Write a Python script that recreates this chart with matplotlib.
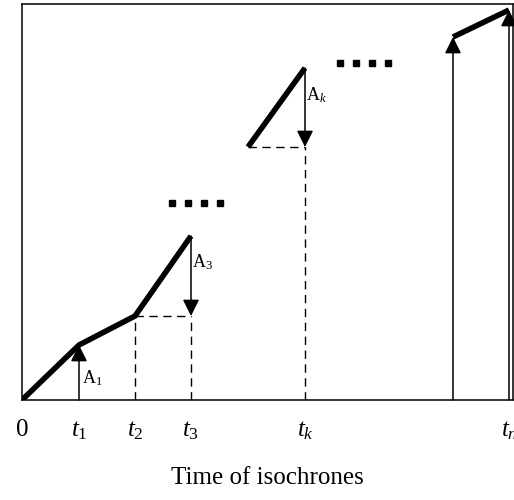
import matplotlib
matplotlib.use('Agg')
import matplotlib.pyplot as plt
import numpy as np

plt.rcParams['font.family'] = 'Liberation Serif'
plt.rcParams['mathtext.fontset'] = 'custom'
plt.rcParams['mathtext.rm'] = 'Liberation Serif'
plt.rcParams['mathtext.it'] = 'Liberation Serif:italic'

# isochrone times and cumulative values (arbitrary units)
tick_pos = [0, 57, 113, 169, 283, 487]
tick_labels = ['0', r'$t_{\mathit{1}}$', r'$t_{\mathit{2}}$', r'$t_{\mathit{3}}$', r'$t_k$', r'$t_n$']

seg1_x = [0, 57, 113, 169]
seg1_y = [0, 55, 84, 164]
segk_x = [226, 283]
segk_y = [253, 332]
segn_x = [431, 487]
segn_y = [363, 390]

dots1_x = [150, 166, 182, 198]
dots1_y = [197, 197, 197, 197]
dots2_x = [318, 334, 350, 366]
dots2_y = [337, 337, 337, 337]

fig = plt.figure(figsize=(5.14, 5.0), dpi=100)
ax = fig.add_axes([22 / 514, 0.2, 491 / 514, 396 / 500])
ax.set_xlim(0, 491)
ax.set_ylim(0, 396)

thick = dict(color='black', lw=4.0, solid_capstyle='butt', solid_joinstyle='miter')
ax.plot(seg1_x, seg1_y, **thick)
ax.plot(segk_x, segk_y, **thick)
ax.plot(segn_x, segn_y, **thick)

dash = dict(color='black', lw=1.0, ls=(0, (6, 4)))
# dashed guides
ax.plot([seg1_x[2], seg1_x[2]], [0, seg1_y[2]], **dash)
ax.plot([seg1_x[2], seg1_x[3]], [seg1_y[2], seg1_y[2]], **dash)
ax.plot([seg1_x[3], seg1_x[3]], [0, seg1_y[2]], **dash)
ax.plot([segk_x[0], segk_x[1]], [segk_y[0], segk_y[0]], **dash)
ax.plot([segk_x[1], segk_x[1]], [0, segk_y[0]], **dash)

arr = dict(arrowstyle='-|>,head_length=1.0,head_width=0.5', color='black', lw=1.1,
           shrinkA=0, shrinkB=0)
# up arrows
ax.annotate('', xy=(seg1_x[1], seg1_y[1]), xytext=(seg1_x[1], 0), arrowprops=arr)
ax.annotate('', xy=(segn_x[0], segn_y[0]), xytext=(segn_x[0], 0), arrowprops=arr)
ax.annotate('', xy=(segn_x[1], segn_y[1]), xytext=(segn_x[1], 0), arrowprops=arr)
# down arrows
ax.annotate('', xy=(seg1_x[3], seg1_y[2]), xytext=(seg1_x[3], seg1_y[3]), arrowprops=arr)
ax.annotate('', xy=(segk_x[1], segk_y[0]), xytext=(segk_x[1], segk_y[1]), arrowprops=arr)

ax.plot(dots1_x, dots1_y, 's', color='black', ms=4)
ax.plot(dots2_x, dots2_y, 's', color='black', ms=4)

ax.text(60, 22, r'A$_1$', fontsize=13, va='center')
ax.text(170, 138, r'A$_3$', fontsize=13, va='center')
ax.text(284, 305, r'A$_k$', fontsize=13, va='center')

ax.set_xticks(tick_pos)
ax.set_xticklabels(tick_labels, fontsize=18)
ax.tick_params(axis='x', length=0, pad=14)
ax.set_yticks([])
ax.set_xlabel('Time of isochrones', fontsize=18, labelpad=18)
for s in ax.spines.values():
    s.set_linewidth(1.1)

fig.savefig('out.png', dpi=100)
